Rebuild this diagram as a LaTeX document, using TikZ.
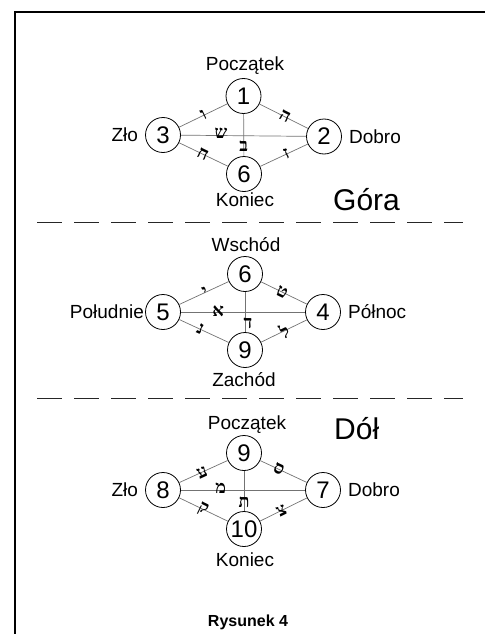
\documentclass[tikz,border=0pt]{standalone}
\usepackage{fontspec}
\setmainfont{Liberation Sans}
\newfontfamily\hebfont[Script=Hebrew]{Liberation Serif}
\begin{document}
\begin{tikzpicture}[x=1pt,y=-1pt,
  num/.style={circle,draw=black,line width=0.8pt,minimum size=35pt,inner sep=0pt,font=\fontsize{24}{24}\selectfont},
  lbl/.style={font=\fontsize{19}{19}\selectfont,inner sep=0pt},
  big/.style={font=\fontsize{30}{30}\selectfont,inner sep=0pt},
  edge/.style={draw=black!55,line width=0.7pt},
  heb/.style={font=\hebfont\bfseries\fontsize{18}{18}\selectfont,inner sep=0pt,text=black},
  sepline/.style={draw=black!85,line width=1pt,dash pattern=on 25pt off 12pt},
  frame/.style={draw=black,line width=1.3pt}
]
\useasboundingbox (0,0) rectangle (485,634);
\coordinate (fa) at (15,634);
\coordinate (fb) at (15,12);
\coordinate (fc) at (485,12);
\draw[frame] (fa) -- (fb) -- (fc);

% separators
\coordinate (s1a) at (37,222); \coordinate (s1b) at (463,222);
\coordinate (s2a) at (37,398); \coordinate (s2b) at (463,398);
\draw[sepline] (s1a) -- (s1b);
\draw[sepline] (s2a) -- (s2b);

% ---------- Section 1 ----------
\node[num] (a1) at (243.5,96) {1};
\node[num] (a3) at (163,135) {3};
\node[num] (a2) at (324,136.5) {2};
\node[num] (a6) at (244,174) {6};
\node[lbl,anchor=base] (a1l) at (245,70.5) {Początek};
\node[lbl,anchor=base] (a6l) at (245,206.5) {Koniec};
\node[lbl,anchor=east] (a3l) at ([xshift=-7pt]a3.west) {Zło};
\node[lbl,anchor=west] (a2l) at ([xshift=7pt]a2.east) {Dobro};
\node[big,anchor=base west] (gora) at (333,210) {Góra};

\draw[edge] (a3) -- node[heb,sloped,pos=.51,yshift=1pt]{ו} (a1);
\draw[edge] (a1) -- node[heb,sloped,pos=.52,yshift=1pt]{ה} (a2);
\draw[edge] (a3) -- node[heb,pos=.32,yshift=2pt]{ש} (a2);
\draw[edge] (a1) -- node[heb,pos=.76]{ב} (a6);
\draw[edge] (a3) -- node[heb,sloped,pos=.49]{ח} (a6);
\draw[edge] (a6) -- node[heb,sloped,pos=.55]{ז} (a2);

% ---------- Section 2 ----------
\node[num] (b6) at (245,274) {6};
\node[num] (b5) at (163,312) {5};
\node[num] (b4) at (323,312) {4};
\node[num] (b9) at (245,350) {9};
\node[lbl,anchor=base] (b6l) at (246,251.5) {Wschód};
\node[lbl,anchor=base] (b9l) at (244,386.5) {Zachód};
\node[lbl,anchor=east] (b5l) at ([xshift=-1pt]b5.west) {Południe};
\node[lbl,anchor=west] (b4l) at ([xshift=7pt]b4.east) {Północ};

\draw[edge] (b5) -- node[heb,sloped,pos=.53,yshift=1pt]{י} (b6);
\draw[edge] (b6) -- node[heb,sloped,pos=.46]{ט} (b4);
\draw[edge] (b5) -- node[heb,pos=.30,yshift=1pt]{א} (b4);
\draw[edge] (b6) -- node[heb,pos=.77,xshift=3pt]{ד} (b9);
\draw[edge] (b5) -- node[heb,sloped,pos=.43]{נ} (b9);
\draw[edge] (b9) -- node[heb,sloped,pos=.51]{ל} (b4);

% ---------- Section 3 ----------
\node[num] (c9) at (244,453) {9};
\node[num] (c8) at (163,490) {8};
\node[num] (c7) at (323,490) {7};
\node[num] (c10) at (244,529) {10};
\node[lbl,anchor=base] (c9l) at (247,429.5) {Początek};
\node[lbl,anchor=base] (c10l) at (245,566.5) {Koniec};
\node[lbl,anchor=east] (c8l) at ([xshift=-7pt]c8.west) {Zło};
\node[lbl,anchor=west] (c7l) at ([xshift=7pt]c7.east) {Dobro};
\node[big,anchor=base west] (dol) at (334,439.5) {Dół};

\draw[edge] (c8) -- node[heb,sloped,pos=.47]{ע} (c9);
\draw[edge] (c9) -- node[heb,sloped,pos=.40]{ס} (c7);
\draw[edge] (c8) -- node[heb,pos=.32,yshift=2pt]{מ} (c7);
\draw[edge] (c9) -- node[heb,pos=.79]{ת} (c10);
\draw[edge] (c8) -- node[heb,sloped,pos=.49]{ק} (c10);
\draw[edge] (c10) -- node[heb,sloped,pos=.46]{צ} (c7);

\node[font=\bfseries\fontsize{16}{16}\selectfont,anchor=base,inner sep=0pt] (cap) at (248,626.5) {Rysunek 4};
\end{tikzpicture}
\end{document}
